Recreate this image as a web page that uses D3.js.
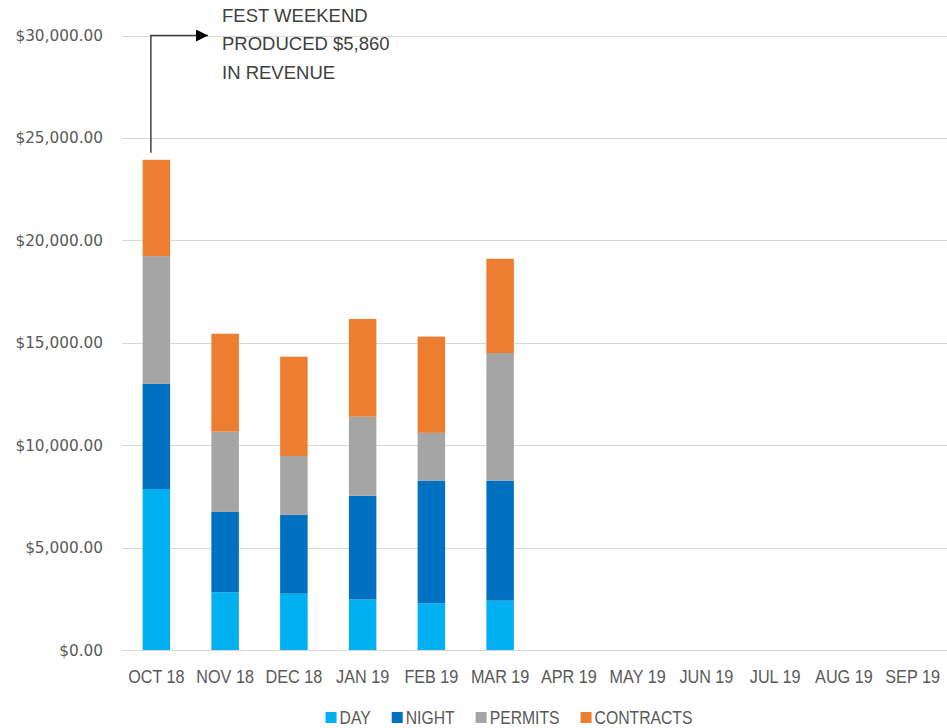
<!DOCTYPE html>
<meta charset="utf-8">
<style>
body { margin: 0; background: #fff; }
text { font-family: "Liberation Sans", Arial, sans-serif; }
.grid line { stroke: #d9d9d9; stroke-width: 1; }
.axis text { fill: #595959; }
.ylab { font-family: "DejaVu Sans", sans-serif; }
</style>
<svg width="947" height="728"></svg>
<script src="https://cdn.jsdelivr.net/npm/d3@7/dist/d3.min.js"></script>
<script>

// chart values
var months = ["OCT 18", "NOV 18", "DEC 18", "JAN 19", "FEB 19", "MAR 19",
              "APR 19", "MAY 19", "JUN 19", "JUL 19", "AUG 19", "SEP 19"];
var seriesNames = ["DAY", "NIGHT", "PERMITS", "CONTRACTS"];
var day       = [7860, 2820, 2750, 2470, 2280, 2410, 0, 0, 0, 0, 0, 0];
var night     = [5130, 3920, 3860, 5060, 5990, 5860, 0, 0, 0, 0, 0, 0];
var permits   = [6240, 3920, 2860, 3860, 2330, 6230, 0, 0, 0, 0, 0, 0];
var contracts = [4700, 4780, 4850, 4770, 4700, 4600, 0, 0, 0, 0, 0, 0];
var yTicks = [0, 5000, 10000, 15000, 20000, 25000, 30000];
var note = ["FEST WEEKEND", "PRODUCED $5,860", "IN REVENUE"];

var colors = ["#00b0f0", "#0070c0", "#a5a5a5", "#ed7d31"];
var squeeze = 0.9;   // text in the original is a little condensed

var svg = d3.select("svg");

var x = d3.scaleBand()
    .domain(months)
    .range([122, 947])
    .paddingInner(0.6)
    .paddingOuter(0.3);

var y = d3.scaleLinear()
    .domain([0, 30000])
    .range([650, 35.5]);

var color = d3.scaleOrdinal().domain(seriesNames).range(colors);

// build rows for the stack
var rows = months.map(function(m, i) {
  return {month: m, DAY: day[i], NIGHT: night[i], PERMITS: permits[i], CONTRACTS: contracts[i]};
});
var stacked = d3.stack().keys(seriesNames)(rows);

// gridlines
svg.append("g")
    .attr("class", "grid")
  .selectAll("line")
  .data(yTicks)
  .enter().append("line")
    .attr("x1", 122)
    .attr("x2", 947)
    .attr("y1", function(d) { return Math.round(y(d)) + 0.5; })
    .attr("y2", function(d) { return Math.round(y(d)) + 0.5; });

// y labels
var fmt = d3.format("$,.2f");
svg.append("g")
    .attr("class", "axis")
  .selectAll("text")
  .data(yTicks)
  .enter().append("text")
    .attr("class", "ylab")
    .attr("x", 103)
    .attr("y", function(d) { return y(d); })
    .attr("dy", "0.36em")
    .attr("text-anchor", "end")
    .attr("font-size", 15.3)
    .text(function(d) { return fmt(d); });

// bars
svg.append("g")
  .selectAll("g")
  .data(stacked)
  .enter().append("g")
    .attr("fill", function(d) { return color(d.key); })
  .selectAll("rect")
  .data(function(d) { return d; })
  .enter().append("rect")
    .attr("x", function(d) { return x(d.data.month); })
    .attr("width", x.bandwidth())
    .attr("y", function(d) { return y(d[1]); })
    .attr("height", function(d) { return y(d[0]) - y(d[1]); });

// x labels
svg.append("g")
    .attr("class", "axis")
  .selectAll("text")
  .data(months)
  .enter().append("text")
    .attr("transform", function(d) {
      return "translate(" + (x(d) + x.bandwidth() / 2) + ",683) scale(" + squeeze + ",1)";
    })
    .attr("text-anchor", "middle")
    .attr("font-size", 18)
    .text(function(d) { return d; });

// legend, laid out from the text widths
var legend = svg.append("g")
  .selectAll("g")
  .data(seriesNames)
  .enter().append("g");

legend.append("rect")
    .attr("y", -11.5)
    .attr("width", 11)
    .attr("height", 11)
    .attr("fill", function(d) { return color(d); });

legend.append("text")
    .attr("transform", "translate(14,0) scale(" + squeeze + ",1)")
    .attr("font-size", 17.5)
    .attr("fill", "#595959")
    .text(function(d) { return d; });

var widths = [];
legend.each(function() {
  widths.push(14 + d3.select(this).select("text").node().getBBox().width * squeeze);
});
var gap = 21;
var total = d3.sum(widths) + gap * (widths.length - 1);
var lx = 509 - total / 2;
legend.attr("transform", function(d, i) {
  var t = "translate(" + lx + ",723.5)";
  lx += widths[i] + gap;
  return t;
});

// annotation arrow from the October bar
var ax = x("OCT 18") + x.bandwidth() * 0.3;
svg.append("defs").append("marker")
    .attr("id", "arrow")
    .attr("viewBox", "0 0 10 10")
    .attr("refX", 10)
    .attr("refY", 5)
    .attr("markerWidth", 12)
    .attr("markerHeight", 12)
    .attr("markerUnits", "userSpaceOnUse")
    .attr("orient", "auto")
  .append("path")
    .attr("d", "M0,0L10,5L0,10Z")
    .attr("fill", "#000");

svg.append("path")
    .attr("d", "M" + ax + "," + (y(contracts[0] + permits[0] + night[0] + day[0]) - 7) +
               "V" + y(30000) + "H208")
    .attr("fill", "none")
    .attr("stroke", "#404040")
    .attr("stroke-width", 1.5)
    .attr("marker-end", "url(#arrow)");

svg.append("g")
  .selectAll("text")
  .data(note)
  .enter().append("text")
    .attr("x", 222)
    .attr("y", function(d, i) { return 22 + i * 28.3; })
    .attr("font-size", 18.5)
    .attr("fill", "#404040")
    .text(function(d) { return d; });

</script>
